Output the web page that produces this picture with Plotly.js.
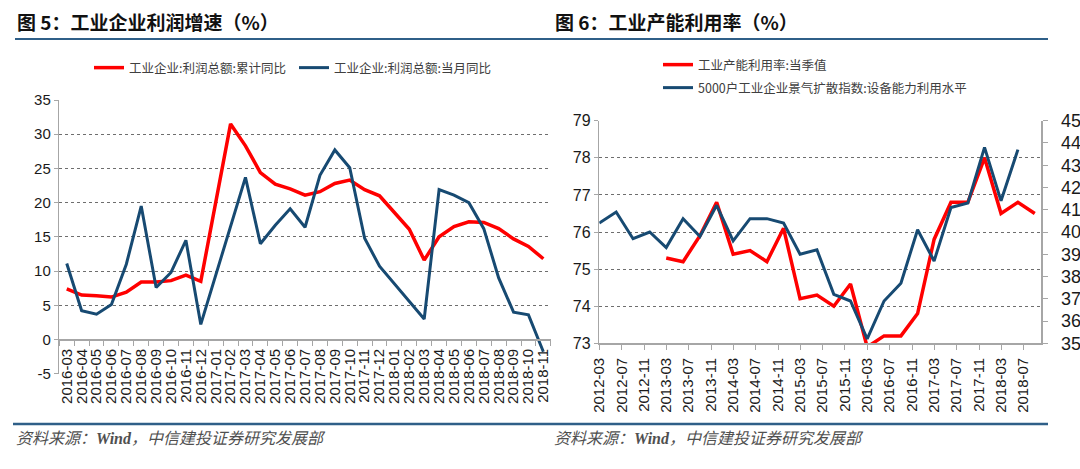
<!DOCTYPE html>
<html><head><meta charset="utf-8">
<script src="https://cdn.plot.ly/plotly-3.0.1.min.js"></script>
<style>html,body{margin:0;padding:0;background:#fff;}#chart{width:1080px;height:469px;}</style>
</head><body><div id="chart"></div>
<script>
// ---- Figure 5: industrial profit growth (monthly categories) ----
const profitMonths = ['2016-03','2016-04','2016-05','2016-06','2016-07','2016-08','2016-09','2016-10','2016-11','2016-12',
  '2017-01','2017-02','2017-03','2017-04','2017-05','2017-06','2017-07','2017-08','2017-09','2017-10','2017-11','2017-12',
  '2018-01','2018-02','2018-03','2018-04','2018-05','2018-06','2018-07','2018-08','2018-09','2018-10','2018-11'];
const profitCumYoY = [7.4,6.5,6.4,6.2,6.9,8.4,8.4,8.6,9.4,8.5,
  null,31.5,28.3,24.4,22.7,22.0,21.1,21.6,22.8,23.3,21.9,21.0,
  null,16.1,11.6,15.0,16.5,17.2,17.1,16.2,14.7,13.6,11.8];
const profitMonthYoY = [11.1,4.2,3.7,5.1,11.0,19.5,7.6,9.8,14.5,2.2,
  null,null,23.7,14.0,16.7,19.1,16.4,24.0,27.7,25.1,14.8,10.7,
  null,null,3.0,21.9,21.1,20.0,16.2,9.0,4.0,3.6,-1.8];
const profitNames = ['工业企业:利润总额:累计同比','工业企业:利润总额:当月同比'];
const profitTickVals = [-5,0,5,10,15,20,25,30,35];
const profitTickText = ['-5','0','5','10','15','20','25','30','35'];

// ---- Figure 6: capacity utilisation (quarterly) ----
const capQuarters = ['2013-03','2013-06','2013-09','2013-12','2014-03','2014-06','2014-09','2014-12',
  '2015-03','2015-06','2015-09','2015-12','2016-03','2016-06','2016-09','2016-12',
  '2017-03','2017-06','2017-09','2017-12','2018-03','2018-06','2018-09'];
const capUtilization = [75.3,75.2,75.9,76.8,75.4,75.5,75.2,76.1,
  74.2,74.3,74.0,74.6,72.9,73.2,73.2,73.8,
  75.8,76.8,76.8,78.0,76.5,76.8,76.5];
const equipQuarters = ['2012-03','2012-06','2012-09','2012-12','2013-03','2013-06','2013-09','2013-12',
  '2014-03','2014-06','2014-09','2014-12','2015-03','2015-06','2015-09','2015-12',
  '2016-03','2016-06','2016-09','2016-12','2017-03','2017-06','2017-09','2017-12','2018-03','2018-06'];
const equipIndex = [40.4,40.9,39.7,40.0,39.3,40.6,39.8,41.2,
  39.6,40.6,40.6,40.4,39.0,39.2,37.2,36.9,
  35.2,36.9,37.7,40.1,38.7,41.1,41.3,43.8,41.4,43.7];
const capNames = ['工业产能利用率:当季值','5000户工业企业景气扩散指数:设备能力利用水平'];

const titles = ['图 5：工业企业利润增速（%）','图 6：工业产能利用率（%）'];
const sourceText = '资料来源：<span style="font-family:Liberation Serif;font-weight:bold">Wind</span>，中信建投证券研究发展部';

const RED = '#ff0000', BLUE = '#174a72';
const W = 1080, H = 469;
const px = v => v / W, py = v => 1 - v / H;
const cjk = 'Noto Sans CJK SC, sans-serif';
const num = 'Liberation Sans, Arial, sans-serif';

const traces = [
  {x: profitMonths, y: profitCumYoY, name: profitNames[0], type: 'scatter', mode: 'lines', connectgaps: true,
   line: {color: RED, width: 3.5}, xaxis: 'x', yaxis: 'y', legend: 'legend'},
  {x: profitMonths, y: profitMonthYoY, name: profitNames[1], type: 'scatter', mode: 'lines', connectgaps: true,
   line: {color: BLUE, width: 3}, xaxis: 'x', yaxis: 'y', legend: 'legend2'},
  {x: capQuarters.map(d => d + '-01'), y: capUtilization, name: capNames[0], type: 'scatter', mode: 'lines',
   line: {color: RED, width: 3.5}, xaxis: 'x2', yaxis: 'y2', legend: 'legend3'},
  {x: equipQuarters.map(d => d + '-01'), y: equipIndex, name: capNames[1], type: 'scatter', mode: 'lines',
   line: {color: BLUE, width: 3}, xaxis: 'x2', yaxis: 'y3', legend: 'legend4'}
];

const gridStyle = {showgrid: true, gridcolor: '#6e6e6e', griddash: 'dot', gridwidth: 1};
const axisLine = {showline: true, linecolor: '#a6a6a6', linewidth: 1.5};
const legendBase = {orientation: 'h', xanchor: 'left', yanchor: 'middle', bgcolor: 'rgba(0,0,0,0)',
  font: {family: cjk, size: 12.5, color: '#404040'}, borderwidth: 0};

const layout = {
  width: W, height: H, margin: {l: 0, r: 0, t: 0, b: 0},
  paper_bgcolor: '#fff', plot_bgcolor: 'rgba(0,0,0,0)', showlegend: true,
  xaxis: Object.assign({domain: [px(59.3), px(550.8)], type: 'category', range: [-0.5, 32.5],
    anchor: 'free', position: py(339.4), tickmode: 'linear', tick0: 0, dtick: 1,
    ticks: 'outside', ticklen: 5, tickcolor: '#a6a6a6', tickson: 'boundaries', tickangle: -90,
    ticklabelstandoff: 2,
    tickfont: {family: num, size: 15, color: '#1a1a1a'}, showgrid: false, zeroline: false}, axisLine),
  yaxis: Object.assign({domain: [py(373.7), py(100)], range: [-5, 35], tickmode: 'array',
    tickvals: profitTickVals, ticktext: profitTickText, anchor: 'x',
    zeroline: false, ticks: 'outside', ticklen: 4, tickcolor: '#a6a6a6',
    tickfont: {family: num, size: 15, color: '#1a1a1a'}}, gridStyle, axisLine),
  xaxis2: Object.assign({domain: [px(599.3), px(1041)], type: 'date', range: ['2012-03-01', '2018-10-05'],
    tick0: '2012-03-01', dtick: 'M4', tickformat: '%Y-%m', tickangle: -90, anchor: 'y2',
    ticks: 'outside', ticklen: 5, tickcolor: '#a6a6a6', showgrid: false, zeroline: false,
    ticklabelstandoff: 2,
    tickfont: {family: num, size: 15, color: '#1a1a1a'}}, axisLine),
  yaxis2: Object.assign({domain: [py(343.3), py(120.7)], range: [73, 79], dtick: 1, anchor: 'x2',
    zeroline: false, ticks: 'outside', ticklen: 4, tickcolor: '#a6a6a6',
    tickfont: {family: num, size: 16, color: '#1a1a1a'}}, gridStyle, axisLine),
  yaxis3: Object.assign({overlaying: 'y2', side: 'right', anchor: 'x2', range: [35, 45], dtick: 1,
    showgrid: false, zeroline: false, ticks: 'outside', ticklen: 5, tickcolor: '#a6a6a6',
    ticklabelstandoff: 10,
    tickfont: {family: num, size: 18, color: '#1a1a1a'}}, axisLine),
  legend: Object.assign({}, legendBase, {x: px(89), y: py(68)}),
  legend2: Object.assign({}, legendBase, {x: px(294), y: py(68)}),
  legend3: Object.assign({}, legendBase, {x: px(658), y: py(65)}),
  legend4: Object.assign({}, legendBase, {x: px(658), y: py(88)}),
  shapes: [
    {type: 'line', xref: 'paper', yref: 'paper', x0: px(15), x1: px(1048), y0: py(39), y1: py(39),
     line: {color: '#2f5f88', width: 2}},
    {type: 'line', xref: 'paper', yref: 'paper', x0: px(13), x1: px(1048), y0: py(424), y1: py(424),
     line: {color: '#2f5f88', width: 2.5}}
  ],
  annotations: [
    {text: titles[0], x: px(15), y: py(22), xref: 'paper', yref: 'paper', xanchor: 'left', yanchor: 'middle',
     showarrow: false, font: {family: cjk, size: 19, weight: 700, color: '#111'}},
    {text: titles[1], x: px(553), y: py(22), xref: 'paper', yref: 'paper', xanchor: 'left', yanchor: 'middle',
     showarrow: false, font: {family: cjk, size: 19, weight: 700, color: '#111'}},
    {text: sourceText, x: px(14), y: py(437), xref: 'paper', yref: 'paper', xanchor: 'left', yanchor: 'middle',
     showarrow: false, font: {family: cjk, size: 16, style: 'italic', color: '#505050'}},
    {text: sourceText, x: px(552), y: py(437), xref: 'paper', yref: 'paper', xanchor: 'left', yanchor: 'middle',
     showarrow: false, font: {family: cjk, size: 16, style: 'italic', color: '#505050'}}
  ]
};

Plotly.newPlot('chart', traces, layout, {displayModeBar: false, staticPlot: true});
</script></body></html>
